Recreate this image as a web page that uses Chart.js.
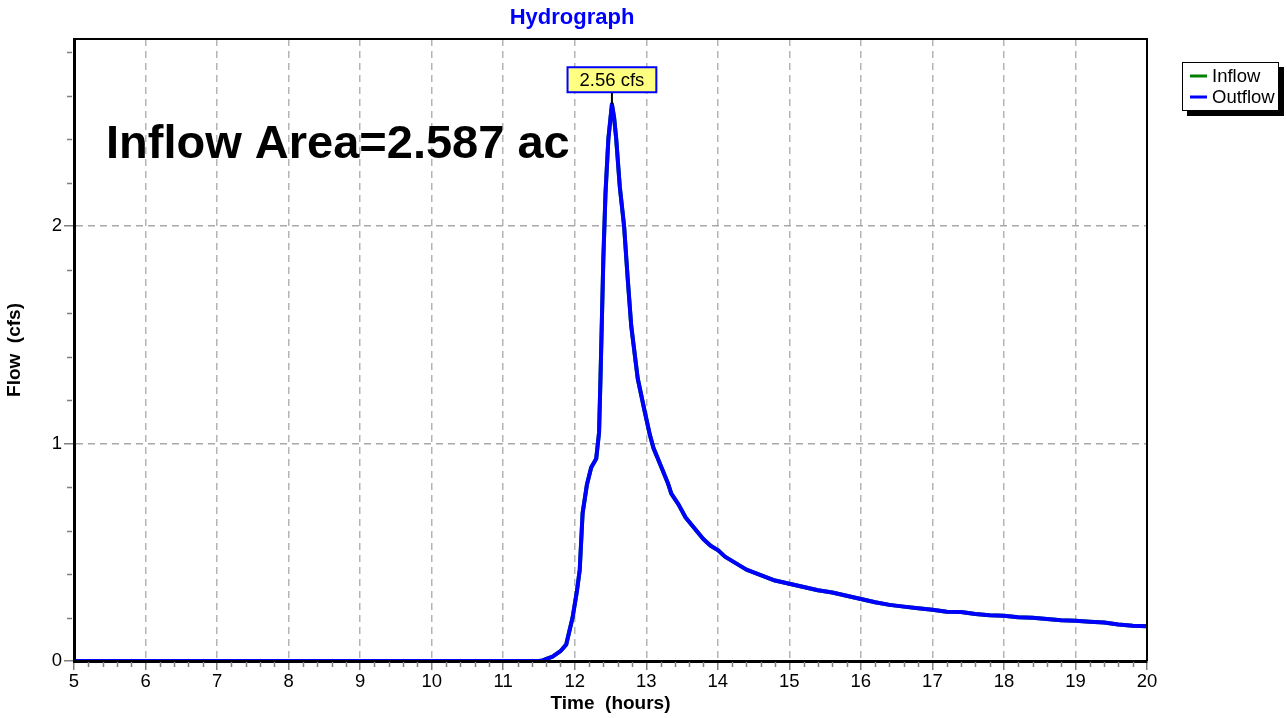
<!DOCTYPE html>
<html>
<head>
<meta charset="utf-8">
<title>Hydrograph</title>
<script src="https://cdn.jsdelivr.net/npm/chart.js@4/dist/chart.umd.min.js"></script>
<style>
  html, body { margin: 0; padding: 0; background: #fff; }
  #wrap { width: 1287px; height: 718px; position: relative; }
</style>
</head>
<body>
<div id="wrap"><canvas id="hydroChart"></canvas></div>
<script>
const times = [5.0, 11.5, 11.55, 11.69, 11.8, 11.88, 11.97, 12.03, 12.07, 12.11, 12.17, 12.23, 12.30, 12.34,
  12.36, 12.40, 12.43, 12.47, 12.52, 12.55, 12.58, 12.63, 12.69, 12.74, 12.79, 12.88, 12.97, 13.05, 13.1,
  13.2, 13.3, 13.35, 13.45, 13.55, 13.65, 13.8, 13.9, 14.0, 14.1, 14.25, 14.4, 14.6, 14.8, 15.0, 15.2,
  15.4, 15.6, 15.8, 16.0, 16.2, 16.4, 16.6, 16.8, 17.0, 17.2, 17.4, 17.6, 17.8, 18.0, 18.2, 18.4, 18.6,
  18.8, 19.0, 19.2, 19.4, 19.6, 19.8, 20.0];
const outflow = [0, 0, 0.003, 0.02, 0.045, 0.075, 0.2, 0.32, 0.42, 0.68, 0.81, 0.89, 0.93, 1.05,
  1.30, 1.85, 2.15, 2.40, 2.56, 2.50, 2.40, 2.18, 2.00, 1.76, 1.54, 1.30, 1.16, 1.04, 0.98,
  0.90, 0.82, 0.77, 0.72, 0.66, 0.62, 0.56, 0.53, 0.51, 0.48, 0.45, 0.42, 0.395, 0.37, 0.355, 0.34,
  0.325, 0.315, 0.30, 0.285, 0.27, 0.258, 0.25, 0.243, 0.236, 0.226, 0.225, 0.216, 0.21, 0.208, 0.201, 0.199, 0.193,
  0.187, 0.185, 0.181, 0.177, 0.168, 0.162, 0.16];
// inflow runs underneath outflow, same hydrograph
const inflow = outflow;

const seriesNames = ['Inflow', 'Outflow'];
const seriesColors = ['#008000', '#0000ff'];
const areaLabel = 'Inflow Area=2.587 ac';
const xTicks = [5, 20];   // axis range
const yTicks = [0, 2.86];

const FONT = 'Arial, "Liberation Sans", Helvetica, sans-serif';

function toPoints(ys) {
  return times.map((t, i) => ({ x: t, y: ys[i] }));
}

// draws frame, minor ticks, title, area note, peak label and legend box
const decorPlugin = {
  id: 'decor',
  afterDraw(chart) {
    const c = chart.ctx;
    const area = chart.chartArea;
    const xs = chart.scales.x;
    const ys = chart.scales.y;
    c.save();

    // top and right frame
    c.strokeStyle = '#000';
    c.lineWidth = 2;
    c.beginPath();
    c.moveTo(area.left, area.top);
    c.lineTo(area.right, area.top);
    c.lineTo(area.right, area.bottom);
    c.stroke();

    // minor ticks every 0.2
    c.strokeStyle = '#808080';
    c.lineWidth = 1.5;
    c.beginPath();
    for (let v = xTicks[0]; v <= xTicks[1] + 1e-6; v += 0.2) {
      if (Math.abs(v - Math.round(v)) < 1e-6) continue;
      const px = Math.round(xs.getPixelForValue(v)) + 0.5;
      c.moveTo(px, area.bottom + 1);
      c.lineTo(px, area.bottom + 6);
    }
    for (let v = yTicks[0]; v <= yTicks[1] + 1e-6; v += 0.2) {
      if (Math.abs(v - Math.round(v)) < 1e-6) continue;
      const py = Math.round(ys.getPixelForValue(v)) + 0.5;
      c.moveTo(area.left - 2, py);
      c.lineTo(area.left - 7, py);
    }
    c.stroke();

    // title
    c.fillStyle = '#0000ff';
    c.font = 'bold 22px ' + FONT;
    c.textAlign = 'center';
    c.textBaseline = 'middle';
    c.fillText('Hydrograph', 572, 18);

    // area note
    c.fillStyle = '#000';
    c.font = 'bold 47px ' + FONT;
    c.textAlign = 'left';
    c.textBaseline = 'alphabetic';
    c.fillText(areaLabel, 106, 158);

    // peak label
    let pk = 0;
    outflow.forEach((v, i) => { if (v > outflow[pk]) pk = i; });
    const px = xs.getPixelForValue(times[pk]);
    const py = ys.getPixelForValue(outflow[pk]);
    const txt = outflow[pk].toFixed(2) + ' cfs';
    c.font = '18.5px ' + FONT;
    const bw = c.measureText(txt).width + 24;
    const bh = 25;
    const by = py - 12 - bh;
    c.strokeStyle = '#000';
    c.lineWidth = 2;
    c.beginPath();
    c.moveTo(px, by + bh);
    c.lineTo(px, py);
    c.stroke();
    c.fillStyle = '#ffff80';
    c.fillRect(px - bw / 2, by, bw, bh);
    c.strokeStyle = '#0000ff';
    c.lineWidth = 2;
    c.strokeRect(px - bw / 2, by, bw, bh);
    c.fillStyle = '#000';
    c.textAlign = 'center';
    c.textBaseline = 'middle';
    c.fillText(txt, px, by + bh / 2 + 1);

    // legend box with shadow
    const lx = 1182, ly = 62, lw = 97, lh = 49;
    c.fillStyle = '#000';
    c.fillRect(lx + 5, ly + 5, lw, lh);
    c.fillStyle = '#fff';
    c.fillRect(lx, ly, lw, lh);
    c.strokeStyle = '#000';
    c.lineWidth = 1;
    c.strokeRect(lx + 0.5, ly + 0.5, lw - 1, lh - 1);
    c.textAlign = 'left';
    c.font = '18.5px ' + FONT;
    chart.data.datasets.forEach((ds, i) => {
      const yy = ly + 14 + i * 21;
      c.strokeStyle = ds.borderColor;
      c.lineWidth = 3;
      c.beginPath();
      c.moveTo(lx + 8, yy);
      c.lineTo(lx + 25, yy);
      c.stroke();
      c.fillStyle = '#000';
      c.fillText(ds.label, lx + 30, yy + 1);
    });

    c.restore();
  }
};

const ctx = document.getElementById('hydroChart').getContext('2d');
new Chart(ctx, {
  type: 'line',
  data: {
    datasets: [
      { label: seriesNames[0], data: toPoints(inflow), borderColor: seriesColors[0], borderWidth: 4, order: 2 },
      { label: seriesNames[1], data: toPoints(outflow), borderColor: seriesColors[1], borderWidth: 4, order: 1 }
    ]
  },
  options: {
    responsive: true,
    maintainAspectRatio: false,
    animation: false,
    layout: { padding: { top: 39, right: 140, left: 0, bottom: 0 } },
    elements: {
      point: { radius: 0, hoverRadius: 0 },
      line: { tension: 0, borderJoinStyle: 'round', borderCapStyle: 'round' }
    },
    plugins: {
      legend: { display: false },
      title: { display: false },
      tooltip: { enabled: false }
    },
    scales: {
      x: {
        type: 'linear',
        min: xTicks[0],
        max: xTicks[1],
        afterFit: (s) => { s.height = 57; },
        ticks: {
          stepSize: 1,
          autoSkip: false,
          maxRotation: 0,
          padding: 1,
          color: '#000',
          font: { family: FONT, size: 18.5 }
        },
        grid: {
          color: '#b4b4b4',
          lineWidth: 1.5,
          tickColor: '#808080',
          tickLength: 9,
          tickWidth: 1.5,
          tickBorderDash: [1, 0]
        },
        border: { display: true, color: '#000', width: 3, dash: [7, 5], z: 1 },
        title: {
          display: true,
          text: 'Time  (hours)',
          color: '#000',
          padding: { top: 0, bottom: 3 },
          font: { family: FONT, size: 19, weight: 'bold' }
        }
      },
      y: {
        min: yTicks[0],
        max: yTicks[1],
        afterFit: (s) => { s.width = 74; },
        ticks: {
          stepSize: 1,
          includeBounds: false,
          padding: 2,
          color: '#000',
          font: { family: FONT, size: 18.5 }
        },
        grid: {
          color: '#a8a8a8',
          lineWidth: 1.5,
          tickColor: '#808080',
          tickLength: 10,
          tickWidth: 1.5,
          tickBorderDash: [1, 0]
        },
        border: { display: true, color: '#000', width: 3, dash: [7, 5], z: 1 },
        title: {
          display: true,
          text: 'Flow  (cfs)',
          color: '#000',
          padding: { top: 3, bottom: 0 },
          font: { family: FONT, size: 19, weight: 'bold' }
        }
      }
    }
  },
  plugins: [decorPlugin]
});
</script>
</body>
</html>
